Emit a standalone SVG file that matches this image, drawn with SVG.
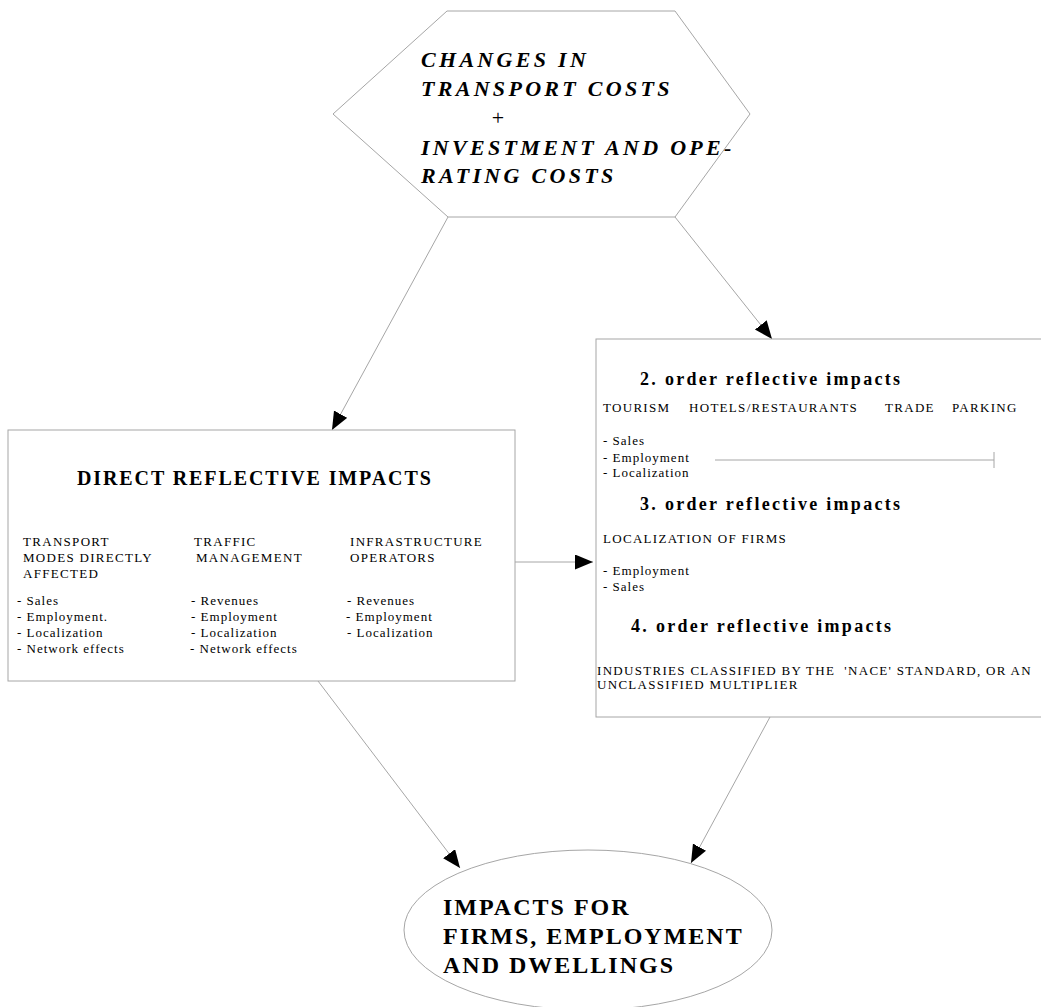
<svg xmlns="http://www.w3.org/2000/svg" width="1041" height="1007" viewBox="0 0 1041 1007">
  <style>
    .shape { fill: #ffffff; stroke: #a6a6a6; stroke-width: 1; }
    .link { fill: none; stroke: #a6a6a6; stroke-width: 1; }
    text { font-family: "Liberation Serif", "Times New Roman", serif; fill: #000000; }
    .hex { font-size: 22px; font-weight: bold; font-style: italic; letter-spacing: 3.3px; }
    .title { font-size: 20px; font-weight: bold; letter-spacing: 1.9px; }
    .sub { font-size: 18px; font-weight: bold; letter-spacing: 2.3px; }
    .cap { font-size: 13px; letter-spacing: 1.3px; }
    .item { font-size: 13px; letter-spacing: 1px; }
    .big { font-size: 24px; font-weight: bold; letter-spacing: 2px; }
  </style>
  <defs>
    <marker id="arrow" markerUnits="userSpaceOnUse" markerWidth="18" markerHeight="16" refX="18" refY="7.5" orient="auto">
      <path d="M0,0 L18,7.5 L0,15 z" fill="#000000"/>
    </marker>
  </defs>

  <rect width="1041" height="1007" fill="#ffffff"/>

  <!-- connectors -->
  <g id="connectors">
    <line class="link" x1="448" y1="217" x2="332" y2="430" marker-end="url(#arrow)"/>
    <line class="link" x1="675" y1="217" x2="772" y2="339" marker-end="url(#arrow)"/>
    <line class="link" x1="515" y1="562" x2="593" y2="562" marker-end="url(#arrow)"/>
    <line class="link" x1="318" y1="681" x2="460" y2="868" marker-end="url(#arrow)"/>
    <line class="link" x1="770" y1="717" x2="691" y2="863" marker-end="url(#arrow)"/>
  </g>

  <!-- top hexagon: cost changes -->
  <g id="costs">
    <polygon class="shape" points="447,11 675,11 750,114 675,217 448,217 333,114"/>
    <text class="hex" x="421" y="67">CHANGES IN</text>
    <text class="hex" x="421" y="96">TRANSPORT COSTS</text>
    <text x="498" y="125" text-anchor="middle" font-size="22">+</text>
    <text class="hex" x="421" y="155">INVESTMENT AND OPE-</text>
    <text class="hex" x="421" y="183">RATING COSTS</text>
  </g>

  <!-- left box: direct reflective impacts -->
  <g id="direct">
    <rect class="shape" x="8" y="430" width="507" height="251"/>
    <text class="title" x="77" y="485">DIRECT REFLECTIVE IMPACTS</text>
    <text class="cap" x="23" y="546">TRANSPORT</text>
    <text class="cap" x="23" y="562">MODES DIRECTLY</text>
    <text class="cap" x="23" y="578">AFFECTED</text>
    <text class="cap" x="194" y="546">TRAFFIC</text>
    <text class="cap" x="196" y="562">MANAGEMENT</text>
    <text class="cap" x="350" y="546">INFRASTRUCTURE</text>
    <text class="cap" x="350" y="562">OPERATORS</text>
    <text class="item" x="17" y="605">- Sales</text>
    <text class="item" x="17" y="621">- Employment.</text>
    <text class="item" x="17" y="637">- Localization</text>
    <text class="item" x="17" y="653">- Network effects</text>
    <text class="item" x="191" y="605">- Revenues</text>
    <text class="item" x="191" y="621">- Employment</text>
    <text class="item" x="191" y="637">- Localization</text>
    <text class="item" x="190" y="653">- Network effects</text>
    <text class="item" x="347" y="605">- Revenues</text>
    <text class="item" x="346" y="621">- Employment</text>
    <text class="item" x="347" y="637">- Localization</text>
  </g>

  <!-- right box: higher order reflective impacts -->
  <g id="higher-order">
    <rect class="shape" x="596" y="339" width="460" height="378"/>
    <text class="sub" x="640" y="385">2. order reflective impacts</text>
    <text class="cap" x="603" y="412">TOURISM</text>
    <text class="cap" x="689" y="412">HOTELS/RESTAURANTS</text>
    <text class="cap" x="885" y="412">TRADE</text>
    <text class="cap" x="952" y="412">PARKING</text>
    <text class="item" x="603" y="445">- Sales</text>
    <text class="item" x="603" y="462">- Employment</text>
    <text class="item" x="603" y="477">- Localization</text>
    <line class="link" x1="715" y1="460" x2="994" y2="460"/>
    <line class="link" x1="994" y1="452" x2="994" y2="468"/>
    <text class="sub" x="640" y="510">3. order reflective impacts</text>
    <text class="cap" x="603" y="543">LOCALIZATION OF FIRMS</text>
    <text class="item" x="603" y="575">- Employment</text>
    <text class="item" x="603" y="591">- Sales</text>
    <text class="sub" x="631" y="632">4. order reflective impacts</text>
    <text class="cap" x="597" y="675" style="white-space:pre">INDUSTRIES CLASSIFIED BY THE  'NACE' STANDARD, OR AN</text>
    <text class="cap" x="597" y="689">UNCLASSIFIED MULTIPLIER</text>
  </g>

  <!-- bottom ellipse: resulting impacts -->
  <g id="outcome">
    <ellipse class="shape" cx="588" cy="930" rx="184" ry="80"/>
    <text class="big" x="443" y="915">IMPACTS FOR</text>
    <text class="big" x="443" y="944">FIRMS, EMPLOYMENT</text>
    <text class="big" x="443" y="973">AND DWELLINGS</text>
  </g>
</svg>
